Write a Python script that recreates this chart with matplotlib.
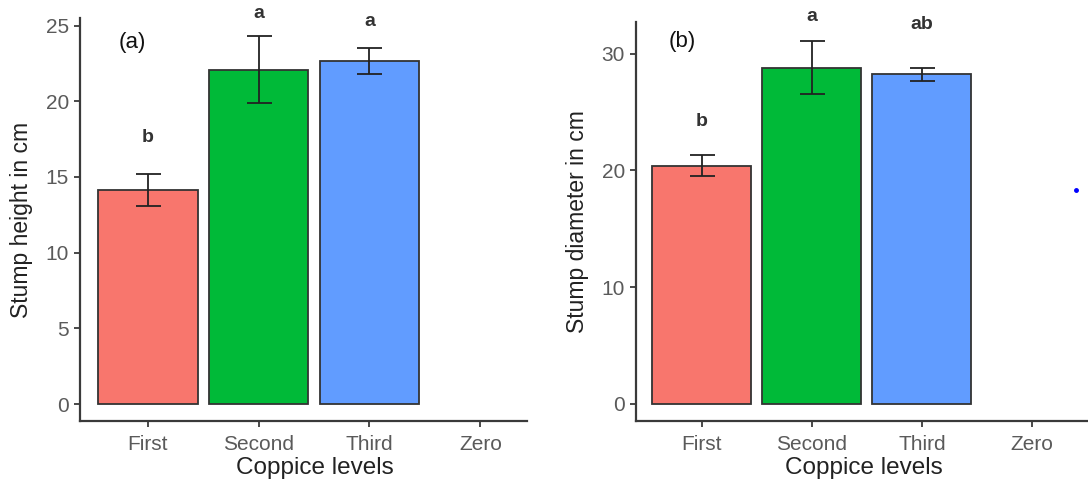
import matplotlib
matplotlib.use("Agg")
import matplotlib.pyplot as plt
import numpy as np

plt.rcParams['font.family'] = ['Liberation Sans', 'DejaVu Sans']

categories = ["First", "Second", "Third", "Zero"]
colors = ["#F8766D", "#00BA38", "#619CFF"]

height_mean = [14.15, 22.05, 22.65]
height_lo = [13.1, 19.9, 21.8]
height_hi = [15.2, 24.3, 23.55]
height_letters = ["b", "a", "a"]
height_letter_y = [17.6, 25.8, 25.3]

diam_mean = [20.4, 28.8, 28.25]
diam_lo = [19.5, 26.5, 27.65]
diam_hi = [21.35, 31.05, 28.75]
diam_letters = ["b", "a", "ab"]
diam_letter_y = [24.2, 33.2, 32.5]

dot_x = [3.4]
dot_y = [18.3]

fig = plt.figure(figsize=(10.88, 4.82), dpi=100)
axA = fig.add_axes([80/1088, 1-421/482, 447/1088, (421-18)/482])
axB = fig.add_axes([636/1088, 1-421/482, 452/1088, (421-22)/482])

tick_col = "#5A5A5A"
spine_col = "#3A3A3A"

def panel(ax, mean, lo, hi, letters, ly, ylabel, yticks, ylim, xlim, tag, tagpos, xlab_x):
    x = np.arange(3)
    ax.bar(x, mean, width=0.9, color=colors, edgecolor="#333333", linewidth=1.3, zorder=2)
    m = np.array(mean)
    ax.errorbar(x, mean, yerr=[m - np.array(lo), np.array(hi) - m], fmt="none",
                ecolor="#222222", elinewidth=1.3, capsize=9, capthick=1.3, zorder=3)
    for xi, t, yy in zip(x, letters, ly):
        ax.text(xi, yy, t, ha="center", va="center", fontsize=14, fontweight="bold", color="#333333")
    ax.text(tagpos[0], tagpos[1], tag, ha="center", va="center", fontsize=16, color="#111111")
    ax.set_xticks(np.arange(len(categories)))
    ax.set_xticklabels(categories)
    ax.set_yticks(yticks)
    ax.set_xlim(*xlim)
    ax.set_ylim(*ylim)
    for s in ["top", "right"]:
        ax.spines[s].set_visible(False)
    for s in ["left", "bottom"]:
        ax.spines[s].set_color(spine_col)
        ax.spines[s].set_linewidth(1.6)
    ax.tick_params(axis="both", colors=spine_col, labelcolor=tick_col, labelsize=15,
                   length=4, width=1.3, pad=4)
    ax.tick_params(axis="x", pad=6)
    ax.set_xlabel("Coppice levels", fontsize=17.5, color="#222222")
    ax.xaxis.set_label_coords(xlab_x, -0.09)
    ax.set_ylabel(ylabel, fontsize=16.5, color="#222222", labelpad=9)

panel(axA, height_mean, height_lo, height_hi, height_letters, height_letter_y,
      "Stump height in cm", [0, 5, 10, 15, 20, 25], (-1.12, 25.5), (-0.61, 3.42),
      "(a)", (-0.14, 23.9), 0.525)
panel(axB, diam_mean, diam_lo, diam_hi, diam_letters, diam_letter_y,
      "Stump diameter in cm", [0, 10, 20, 30], (-1.46, 32.7), (-0.6, 3.51),
      "(b)", (-0.18, 31.0), 0.505)
axB.plot(dot_x, dot_y, "o", color="#0000FF", markersize=2.5, clip_on=False)

fig.savefig("out.png", dpi=100)
